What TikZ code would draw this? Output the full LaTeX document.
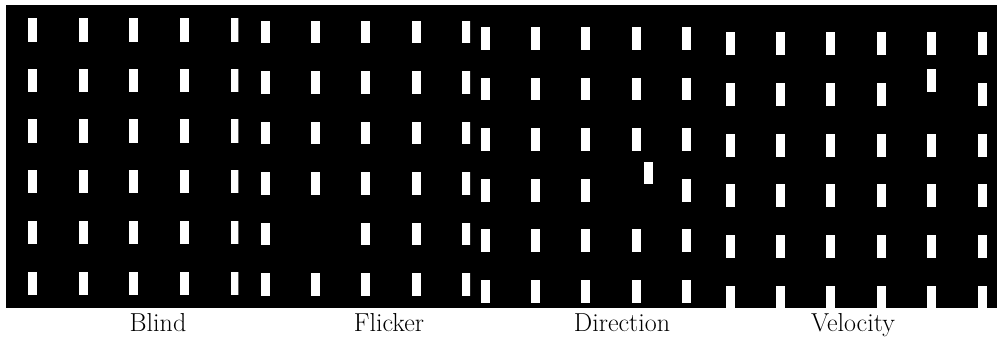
\documentclass[tikz,border=0pt]{standalone}
\begin{document}
\begin{tikzpicture}[x=1pt,y=-1pt,
  bar/.style={fill=white},
  lbl/.style={font=\fontsize{26}{30}\selectfont, anchor=base, inner sep=0pt}]
\useasboundingbox (0,0) rectangle (997,344);
\fill[black] (6,5) rectangle (997,308);
% Blind
\begin{scope}
\clip (6,5) rectangle (238.3,308);
\foreach \x in {28.3,79,129.3,180,230.7}
  \foreach \y in {18.3,69,119.3,170,220.7,271.7}
    \fill[bar] (\x,\y) rectangle ++(9,23.4);
\end{scope}
% Flicker
\begin{scope}
\clip (238.3,5) rectangle (470,308);
\foreach \x [count=\i] in {260.7,310.7,361,411.7,462.3}
  \foreach \y [count=\j] in {20.7,71,121.7,172.3,222.7,273.3}{
    \pgfmathtruncatemacro{\isgap}{(\i==2)&&(\j==5)}
    \ifnum\isgap=0 \fill[bar] (\x,\y) rectangle ++(9,22.8);\fi
  }
\end{scope}
% Direction
\begin{scope}
\clip (470,5) rectangle (720,308);
\foreach \x [count=\i] in {480.7,530.7,581,631.7,682.3}
  \foreach \y [count=\j] in {27.3,77.7,128.3,179,229.3,280}{
    \pgfmathtruncatemacro{\isgap}{(\i==4)&&(\j==4)}
    \ifnum\isgap=0 \fill[bar] (\x,\y) rectangle ++(9,22.8);\fi
  }
\fill[bar] (644,161.7) rectangle ++(9,22.8);
\end{scope}
% Velocity
\begin{scope}
\clip (720,5) rectangle (997,308);
\foreach \x [count=\i] in {725.7,775.7,826,876.7,927.3,977.7}
  \foreach \y [count=\j] in {32.3,83.3,134,184.3,235,285.7}{
    \pgfmathtruncatemacro{\isgap}{(\i==5)&&(\j==2)}
    \ifnum\isgap=0 \fill[bar] (\x,\y) rectangle ++(9,22.8);\fi
  }
\fill[bar] (927.3,69.3) rectangle ++(9,22.8);
\end{scope}
% labels
\node[lbl] (blind) at (158,332) {Blind};
\node[lbl] (flicker) at (389,332) {Flicker};
\node[lbl] (direction) at (622,332) {Direction};
\node[lbl] (velocity) at (853,332) {Velocity};
\end{tikzpicture}
\end{document}
